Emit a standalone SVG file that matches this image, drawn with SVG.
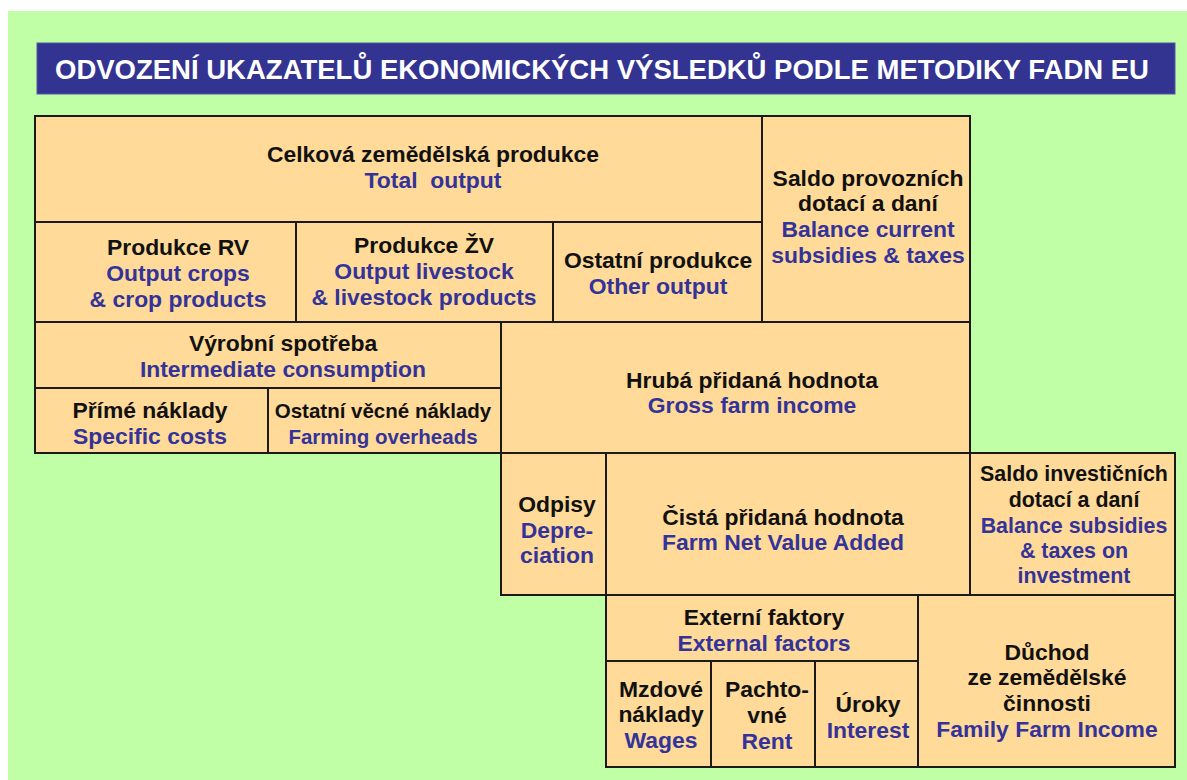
<svg xmlns="http://www.w3.org/2000/svg" width="1187" height="780" viewBox="0 0 1187 780">
<style>
  .bx { fill: #FFDA98; stroke: #1a1a1a; stroke-width: 2; }
  text { font-family: "Liberation Sans", Arial, sans-serif; font-weight: bold; font-size: 22.9px; text-anchor: middle; }
  .k { fill: #111111; }
  .b { fill: #333399; }
  .s { font-size: 20.5px; }
  .m { font-size: 21.4px; }
  .t { fill: #ffffff; font-size: 27.5px; text-anchor: start; }
</style>
<rect x="0" y="0" width="1187" height="780" fill="#ffffff"/>
<rect x="8" y="11" width="1179" height="769" fill="#C0FFA6"/>
<g id="title">
  <rect x="37" y="43" width="1138" height="51" fill="#333391" stroke="#5555aa" stroke-width="1"/>
  <text class="t" x="55" y="79">ODVOZENÍ UKAZATELŮ EKONOMICKÝCH VÝSLEDKŮ PODLE METODIKY FADN EU</text>
</g>
<g id="celkova">
  <rect class="bx" x="35" y="116" width="727" height="106"/>
  <text x="433" y="162" class="k">Celková zemědělská produkce</text>
  <text x="433" y="188" class="b" xml:space="preserve">Total  output</text>
</g>
<g id="saldo-provoz">
  <rect class="bx" x="762" y="116" width="208" height="206"/>
  <text x="868" y="186" class="k">Saldo provozních</text>
  <text x="868" y="211" class="k">dotací a daní</text>
  <text x="868" y="237" class="b">Balance current</text>
  <text x="868" y="263" class="b">subsidies &amp; taxes</text>
</g>
<g id="produkce-rv">
  <rect class="bx" x="35" y="222" width="261" height="100"/>
  <text x="178" y="255" class="k">Produkce RV</text>
  <text x="178" y="281" class="b">Output crops</text>
  <text x="178" y="307" class="b">&amp; crop products</text>
</g>
<g id="produkce-zv">
  <rect class="bx" x="296" y="222" width="257" height="100"/>
  <text x="424" y="253" class="k">Produkce ŽV</text>
  <text x="424" y="279" class="b">Output livestock</text>
  <text x="424" y="305" class="b">&amp; livestock products</text>
</g>
<g id="ostatni-produkce">
  <rect class="bx" x="553" y="222" width="209" height="100"/>
  <text x="658" y="268" class="k">Ostatní produkce</text>
  <text x="658" y="294" class="b">Other output</text>
</g>
<g id="vyrobni-spotreba">
  <rect class="bx" x="35" y="322" width="466" height="66"/>
  <text x="283" y="351" class="k">Výrobní spotřeba</text>
  <text x="283" y="377" class="b">Intermediate consumption</text>
</g>
<g id="prime-naklady">
  <rect class="bx" x="35" y="388" width="233" height="65"/>
  <text x="150" y="418" class="k">Přímé náklady</text>
  <text x="150" y="444" class="b">Specific costs</text>
</g>
<g id="ostatni-vecne">
  <rect class="bx" x="268" y="388" width="233" height="65"/>
  <text x="383" y="418" class="k s">Ostatní věcné náklady</text>
  <text x="383" y="444" class="b s">Farming overheads</text>
</g>
<g id="hruba-pridana">
  <rect class="bx" x="501" y="322" width="469" height="131"/>
  <text x="752" y="388" class="k">Hrubá přidaná hodnota</text>
  <text x="752" y="413" class="b">Gross farm income</text>
</g>
<g id="odpisy">
  <rect class="bx" x="501" y="453" width="105" height="142"/>
  <text x="557" y="512" class="k">Odpisy</text>
  <text x="557" y="538" class="b">Depre-</text>
  <text x="557" y="563" class="b">ciation</text>
</g>
<g id="cista-pridana">
  <rect class="bx" x="606" y="453" width="364" height="142"/>
  <text x="783" y="525" class="k">Čistá přidaná hodnota</text>
  <text x="783" y="550" class="b">Farm Net Value Added</text>
</g>
<g id="saldo-invest">
  <rect class="bx" x="970" y="453" width="205" height="142"/>
  <text x="1074" y="481" class="k m">Saldo investičních</text>
  <text x="1074" y="507" class="k m">dotací a daní</text>
  <text x="1074" y="533" class="b m">Balance subsidies</text>
  <text x="1074" y="558" class="b m">&amp; taxes on</text>
  <text x="1074" y="583" class="b m">investment</text>
</g>
<g id="externi-faktory">
  <rect class="bx" x="606" y="595" width="312" height="66"/>
  <text x="764" y="625" class="k">Externí faktory</text>
  <text x="764" y="651" class="b">External factors</text>
</g>
<g id="mzdove">
  <rect class="bx" x="606" y="661" width="105" height="106"/>
  <text x="661" y="697" class="k">Mzdové</text>
  <text x="661" y="722" class="k">náklady</text>
  <text x="661" y="748" class="b">Wages</text>
</g>
<g id="pachtovne">
  <rect class="bx" x="711" y="661" width="104" height="106"/>
  <text x="767" y="697" class="k">Pachto-</text>
  <text x="767" y="723" class="k">vné</text>
  <text x="767" y="749" class="b">Rent</text>
</g>
<g id="uroky">
  <rect class="bx" x="815" y="661" width="103" height="106"/>
  <text x="868" y="712" class="k">Úroky</text>
  <text x="868" y="738" class="b">Interest</text>
</g>
<g id="duchod">
  <rect class="bx" x="918" y="595" width="257" height="172"/>
  <text x="1047" y="660" class="k">Důchod</text>
  <text x="1047" y="685" class="k">ze zemědělské</text>
  <text x="1047" y="711" class="k">činnosti</text>
  <text x="1047" y="737" class="b">Family Farm Income</text>
</g>
<g id="connectors"></g>
</svg>
